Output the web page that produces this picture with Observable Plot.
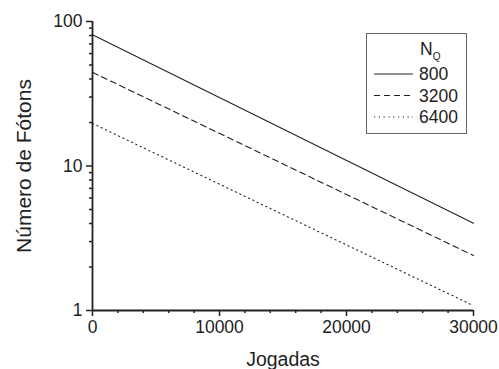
<!DOCTYPE html>
<html>
<head>
<meta charset="utf-8">
<script src="https://cdn.jsdelivr.net/npm/d3@7"></script>
<script src="https://cdn.jsdelivr.net/npm/@observablehq/plot@0.6"></script>
<style>
  html, body { margin: 0; padding: 0; background: #fff; }
  #wrap { position: relative; width: 499px; height: 369px; font-family: "Liberation Sans", Arial, sans-serif; }
  #legend { position: absolute; left: 0; top: 0; }
  #wrap svg text { font-family: "Liberation Sans", Arial, sans-serif; }
  #wrap svg g[aria-label="x-axis tick label"], #wrap svg g[aria-label="y-axis tick label"] { font-size: 17.5px; }
</style>
</head>
<body>
<div id="wrap"></div>
<script>
// ---- data ----
const seriesNames = ["800", "3200", "6400"];
const jogadas = [0, 30000];
const fotons800 = [81, 4.02];
const fotons3200 = [44.5, 2.4];
const fotons6400 = [19.7, 1.08];
const dashes = ["none", "6,4", "1.2,3.6"];
const xTicks = [0, 10000, 20000, 30000];
const xMinor = [2000, 4000, 6000, 8000, 12000, 14000, 16000, 18000, 22000, 24000, 26000, 28000];
const yTicks = [1, 10, 100];
const yMinor = [2, 3, 4, 5, 6, 7, 8, 9, 20, 30, 40, 50, 60, 70, 80, 90];

const seriesValues = [fotons800, fotons3200, fotons6400];
const tables = seriesValues.map((vals, i) =>
  jogadas.map((x, j) => ({x, y: vals[j], s: seriesNames[i]})));

const ink = "#222";
const font = "Liberation Sans, Arial, sans-serif";

const chart = Plot.plot({
  width: 499,
  height: 369,
  marginLeft: 92,
  marginRight: 26,
  marginTop: 21,
  marginBottom: 59,
  style: {fontFamily: font, fontSize: "17px", color: ink, background: "#fff"},
  x: {domain: [0, 30000]},
  y: {type: "log", domain: [1, 100]},
  marks: [
    Plot.axisX({ticks: xMinor, tickSize: 3, tickFormat: () => "", strokeWidth: 1.5, label: null}),
    Plot.axisX({ticks: xTicks, tickSize: 6, tickPadding: 4, tickFormat: d => String(d), strokeWidth: 1.5, label: null, fontSize: 17.5}),
    Plot.axisY({ticks: yMinor, tickSize: 3, tickFormat: () => "", strokeWidth: 1.5, label: null}),
    Plot.axisY({ticks: yTicks, tickSize: 6, tickPadding: 4, tickFormat: d => String(d), strokeWidth: 1.5, label: null, fontSize: 17.5}),
    Plot.ruleX([0], {stroke: ink, strokeWidth: 1.8}),
    Plot.ruleY([1], {stroke: ink, strokeWidth: 1.8}),
    ...tables.map((t, i) => Plot.line(t, {x: "x", y: "y", stroke: ink, strokeWidth: 1.1, strokeDasharray: dashes[i] === "none" ? undefined : dashes[i]})),
    Plot.text(["Número de Fótons"], {frameAnchor: "left", dx: -62, rotate: -90, textAnchor: "middle", lineAnchor: "bottom", fontSize: 21, fill: ink}),
    Plot.text(["Jogadas"], {frameAnchor: "bottom", dy: 55, textAnchor: "middle", lineAnchor: "bottom", fontSize: 19.5, fill: ink})
  ]
});
document.getElementById("wrap").appendChild(chart);

// ---- legend overlay ----
const lg = d3.select("#wrap").append("svg")
  .attr("id", "legend").attr("width", 499).attr("height", 369)
  .style("font-family", font);
lg.append("rect").attr("x", 366.5).attr("y", 33.5).attr("width", 100).attr("height", 100)
  .attr("fill", "#fff").attr("stroke", "#666").attr("stroke-width", 1);
const title = lg.append("text").attr("x", 420).attr("y", 55).attr("font-size", 17.5).attr("fill", ink);
title.append("tspan").text("N");
title.append("tspan").attr("font-size", 10).attr("dy", 5).text("Q");
seriesNames.forEach((name, i) => {
  const yy = 74 + i * 21.5;
  lg.append("line").attr("x1", 374).attr("x2", 413).attr("y1", yy).attr("y2", yy)
    .attr("stroke", ink).attr("stroke-width", 1)
    .attr("stroke-dasharray", dashes[i]);
  lg.append("text").attr("x", 419).attr("y", yy + 6).attr("font-size", 17.5).attr("fill", ink).text(name);
});
</script>
</body>
</html>
